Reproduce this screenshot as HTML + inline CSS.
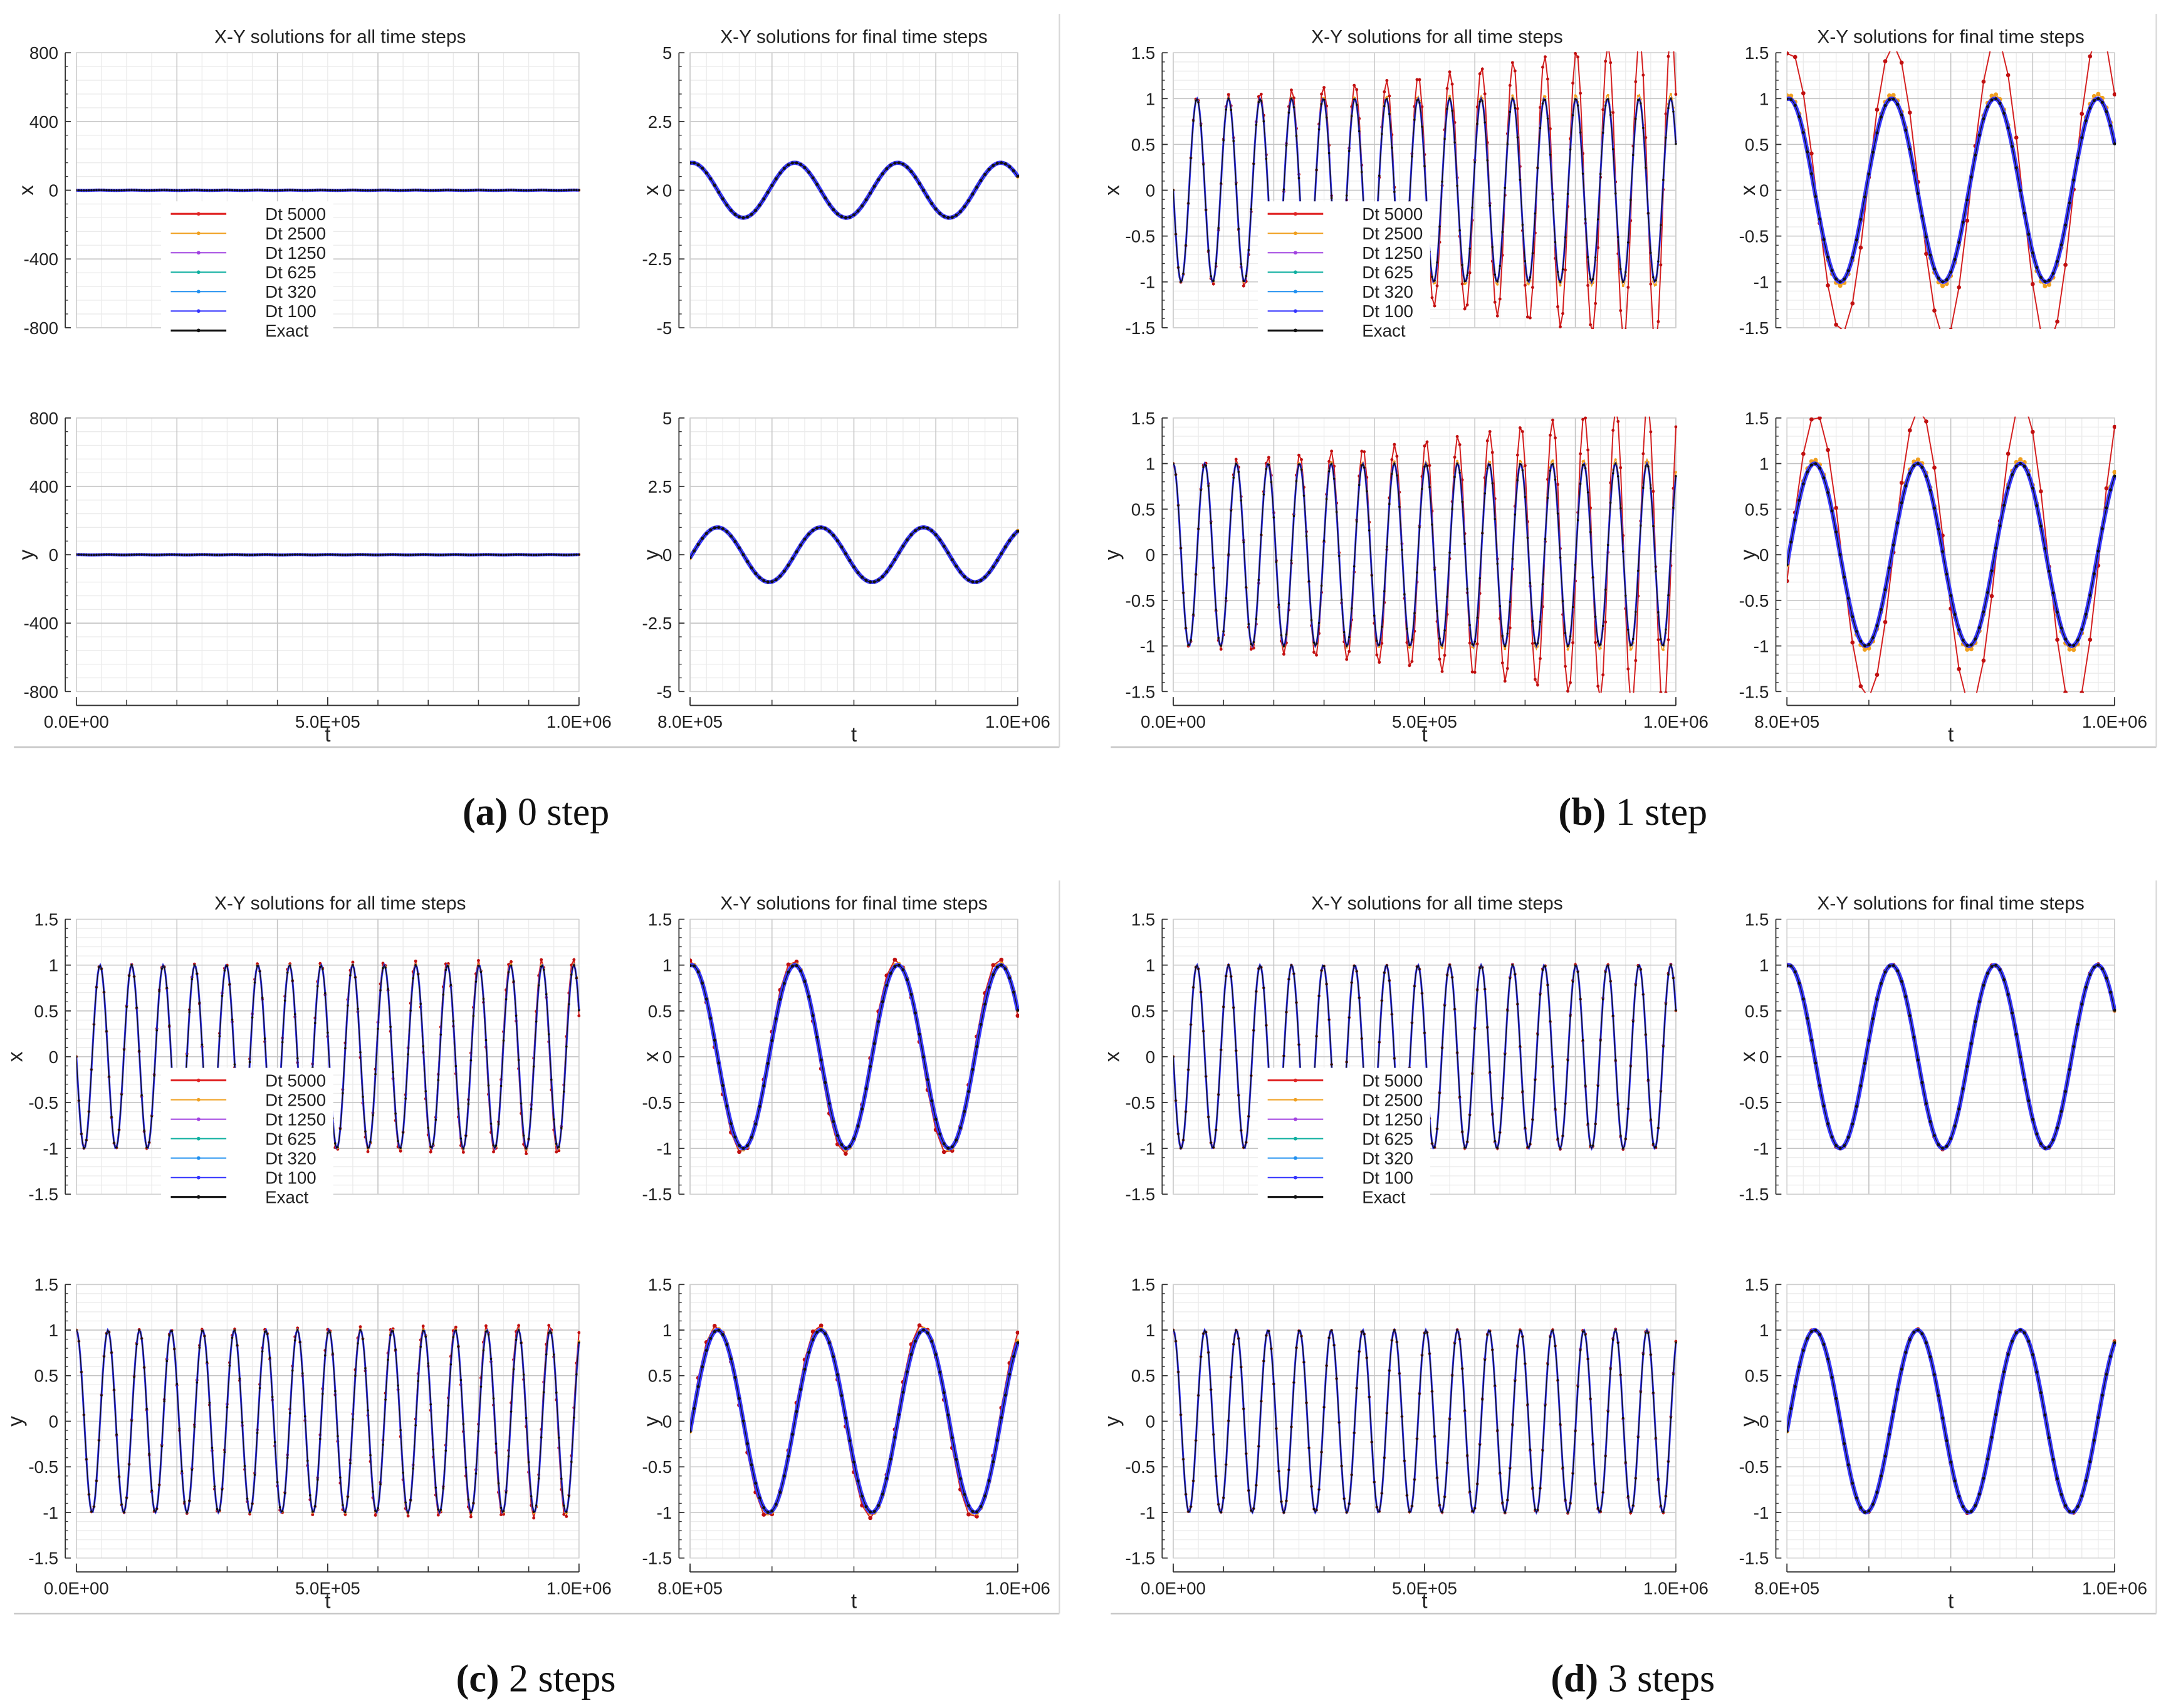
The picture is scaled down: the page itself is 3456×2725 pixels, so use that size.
<!DOCTYPE html>
<html><head><meta charset="utf-8"><style>
html,body{margin:0;padding:0;background:#fff;}
svg{display:block;}
</style></head><body>
<svg id="fig" width="3456" height="2725" viewBox="0 0 1560 1230" preserveAspectRatio="none" xmlns="http://www.w3.org/2000/svg" font-family="Liberation Sans, sans-serif"></svg>
<script>
// ---- data ----
const panelLabels = ["(a)", "(b)", "(c)", "(d)"];
const panelCaptions = ["0 step", "1 step", "2 steps", "3 steps"];
const envT = [0, 200000, 400000, 600000, 800000, 1000000];
const ampDt5000 = [
  [1, 1, 1, 1, 1, 1],
  [1, 1.08, 1.18, 1.33, 1.52, 1.75],
  [1, 1.01, 1.02, 1.04, 1.05, 1.07],
  [1, 1, 1, 1.005, 1.01, 1.01]
];
const lagDt5000 = [
  [0, 0, 0, 0, 0, 0],
  [0, 0.02, 0.04, 0.06, 0.08, 0.11],
  [0, -0.02, -0.04, -0.06, -0.08, -0.1],
  [0, 0, 0, -0.01, -0.01, -0.01]
];
const ampDt2500 = [
  [1, 1, 1, 1, 1, 1],
  [1, 1.01, 1.02, 1.03, 1.04, 1.05],
  [1, 1, 1.005, 1.01, 1.01, 1.015],
  [1, 1, 1, 1, 1, 1]
];
const omega = 1e-4;
const legendNames = ["Dt 5000", "Dt 2500", "Dt 1250", "Dt 625", "Dt 320", "Dt 100", "Exact"];
const legendColors = ["#e02424", "#f0a020", "#a040e0", "#10b0a0", "#2090f0", "#3434ff", "#111111"];
const leftXTicks = [0, 500000, 1000000];
const leftXTickLabels = ["0.0E+00", "5.0E+05", "1.0E+06"];
const rightXTicks = [800000, 1000000];
const rightXTickLabels = ["8.0E+05", "1.0E+06"];
const yTicksA_left = [800, 400, 0, -400, -800];
const yTicksA_right = [5, 2.5, 0, -2.5, -5];
const yTicksB = [1.5, 1, 0.5, 0, -0.5, -1, -1.5];

// ---- drawing ----
const svg = document.getElementById('fig');
const NS = 'http://www.w3.org/2000/svg';
function mk(tag, attrs, parent) {
  const e = document.createElementNS(NS, tag);
  for (const k in attrs) e.setAttribute(k, attrs[k]);
  (parent || svg).appendChild(e);
  return e;
}
function interp(arr, t) {
  for (let i = 0; i < envT.length - 1; i++) {
    if (t <= envT[i + 1]) {
      const f = (t - envT[i]) / (envT[i + 1] - envT[i]);
      return arr[i] + f * (arr[i + 1] - arr[i]);
    }
  }
  return arr[arr.length - 1];
}
function val(comp, t, amp, lag) {
  const A = amp ? interp(amp, t) : 1;
  const d = lag ? interp(lag, t) : 0;
  return comp === 'x' ? -A * Math.sin(omega * t - d) : A * Math.cos(omega * t - d);
}
let clipId = 0;
function plot(g, p, opt) {
  const sx = t => opt.x0 + (t - opt.tmin) / (opt.tmax - opt.tmin) * (opt.x1 - opt.x0);
  const sy = v => opt.y1 - (v - opt.ymin) / (opt.ymax - opt.ymin) * (opt.y1 - opt.y0);
  const pg = mk('g', {}, g);
  
  
  for (let v = opt.ymin; v <= opt.ymax + 1e-9; v += opt.yMinorStep)
    mk('line', {x1: opt.x0, x2: opt.x1, y1: sy(v), y2: sy(v), stroke: '#ebebeb', 'stroke-width': 0.6}, pg);
  for (let t = opt.tmin; t <= opt.tmax + 1; t += opt.xMinor)
    mk('line', {x1: sx(t), x2: sx(t), y1: opt.y0, y2: opt.y1, stroke: '#ebebeb', 'stroke-width': 0.6}, pg);
  for (let t = opt.tmin; t <= opt.tmax + 1; t += opt.xMajor)
    mk('line', {x1: sx(t), x2: sx(t), y1: opt.y0, y2: opt.y1, stroke: '#c4c4c4', 'stroke-width': 0.7}, pg);
  opt.yticks.forEach(v => mk('line', {x1: opt.x0, x2: opt.x1, y1: sy(v), y2: sy(v), stroke: '#c4c4c4', 'stroke-width': 0.7}, pg));
  mk('rect', {x: opt.x0, y: opt.y0, width: opt.x1 - opt.x0, height: opt.y1 - opt.y0, fill: 'none', stroke: '#cfcfcf', 'stroke-width': 0.7}, pg);
  const ax = opt.x0 - 8;
  const yAxis = mk('g', {}, pg);
  
  
  mk('line', {x1: ax, x2: ax, y1: opt.y0, y2: opt.y1, stroke: '#333', 'stroke-width': 0.8}, yAxis);
  for (let v = opt.ymin; v <= opt.ymax + 1e-9; v += opt.yMinorStep)
    mk('line', {x1: ax, x2: ax + 2, y1: sy(v), y2: sy(v), stroke: '#333', 'stroke-width': 0.6}, yAxis);
  opt.yticks.forEach(v => {
    mk('line', {x1: ax, x2: ax + 4, y1: sy(v), y2: sy(v), stroke: '#333', 'stroke-width': 0.8}, yAxis);
    const tx = mk('text', {x: ax - 5, y: sy(v) + 4.5, 'font-size': 12.5, 'text-anchor': 'end', fill: '#222'}, yAxis);
    tx.textContent = String(v);
  });
  const yl = mk('text', {x: opt.ylx, y: sy(0) + 4, 'font-size': 15, 'text-anchor': 'middle', fill: '#222', transform: `rotate(-90 ${opt.ylx} ${sy(0)})`}, yAxis);
  yl.textContent = opt.comp;
  
  
  const id = 'c' + (clipId++);
  const cp = mk('clipPath', {id}, pg);
  mk('rect', {x: opt.x0, y: opt.y0 - 1, width: opt.x1 - opt.x0 + 1, height: opt.y1 - opt.y0 + 2}, cp);
  const cg = mk('g', {'clip-path': `url(#${id})`}, pg);
  const comp = opt.comp;
  function pathFor(step, amp, lag) {
    let d = '';
    for (let t = opt.tmin; t <= opt.tmax + 1; t += step)
      d += (d ? 'L' : 'M') + sx(t).toFixed(2) + ',' + sy(val(comp, t, amp, lag)).toFixed(2);
    return d;
  }
  function dots(step, amp, lag, r, color, g2) {
    for (let t = opt.tmin; t <= opt.tmax + 1; t += step)
      mk('circle', {cx: sx(t), cy: sy(val(comp, t, amp, lag)), r, fill: color}, g2);
  }
  const fullStep = opt.full ? 2500 : 1000;
  const red = mk('g', {}, cg);
  
  
  mk('path', {d: pathFor(5000, ampDt5000[p], lagDt5000[p]), fill: 'none', stroke: '#d42020', 'stroke-width': 0.9}, red);
  dots(5000, ampDt5000[p], lagDt5000[p], opt.full ? 1.1 : 1.5, '#c01010', red);
  const org = mk('g', {}, cg);
  
  
  mk('path', {d: pathFor(2500, ampDt2500[p], null), fill: 'none', stroke: '#f0a020', 'stroke-width': 0.8}, org);
  dots(opt.full ? 5000 : 2500, ampDt2500[p], null, opt.full ? 0.9 : 1.6, '#f0a020', org);
  const blu = mk('g', {}, cg);
  
  
  mk('path', {d: pathFor(fullStep, null, null), fill: 'none', stroke: '#3a3aff', 'stroke-width': opt.full ? (p === 0 ? 2.2 : 1.4) : 3}, blu);
  const ex = mk('g', {}, cg);
  
  
  mk('path', {d: pathFor(fullStep, null, null), fill: 'none', stroke: '#111', 'stroke-width': p === 0 && opt.full ? 0.3 : 0.6}, ex);
  dots(opt.full ? 5000 : 2500, null, null, opt.full ? 0.8 : 1.1, '#111', ex);
  return {sx, sy};
}
function xAxis(g, x0, x1, tmin, tmax, ticks, labels, minor, y) {
  const sx = t => x0 + (t - tmin) / (tmax - tmin) * (x1 - x0);
  const a = mk('g', {}, g);
  
  
  mk('line', {x1: x0, x2: x1, y1: y, y2: y, stroke: '#333', 'stroke-width': 0.8}, a);
  for (let t = tmin; t <= tmax + 1; t += minor)
    mk('line', {x1: sx(t), x2: sx(t), y1: y, y2: y - 4, stroke: '#333', 'stroke-width': 0.7}, a);
  ticks.forEach((t, i) => {
    mk('line', {x1: sx(t), x2: sx(t), y1: y, y2: y - 6, stroke: '#333', 'stroke-width': 0.8}, a);
    const tx = mk('text', {x: sx(t), y: y + 16, 'font-size': 12.5, 'text-anchor': 'middle', fill: '#222'}, a);
    tx.textContent = labels[i];
  });
  const tl = mk('text', {x: (x0 + x1) / 2, y: y + 26, 'font-size': 15, 'text-anchor': 'middle', fill: '#222'}, a);
  tl.textContent = 't';
  
  
}
const offsets = [[0, 0], [790, 0], [0, 624], [790, 624]];
offsets.forEach(([ox, oy], p) => {
  const g = mk('g', {transform: `translate(${ox},${oy})`});
  
  
  mk('line', {x1: 10, x2: 763, y1: 538, y2: 538, stroke: '#c8c8c8', 'stroke-width': 1.2}, g);
  mk('line', {x1: 763, x2: 763, y1: 10, y2: 538, stroke: '#d8d8d8', 'stroke-width': 1}, g);
  const t1 = mk('text', {x: 245, y: 31, 'font-size': 13.5, 'text-anchor': 'middle', fill: '#222'}, g);
  t1.textContent = 'X-Y solutions for all time steps';
  
  
  const t2 = mk('text', {x: 615, y: 31, 'font-size': 13.5, 'text-anchor': 'middle', fill: '#222'}, g);
  t2.textContent = 'X-Y solutions for final time steps';
  
  
  const isA = p === 0;
  const rows = [['x', 38, 236], ['y', 301, 498]];
  rows.forEach(([c, y0, y1]) => {
    plot(g, p, {name: 'plot-' + c + '-all', x0: 55, x1: 417, y0, y1, tmin: 0, tmax: 1000000,
      ymin: isA ? -800 : -1.5, ymax: isA ? 800 : 1.5, comp: c,
      yticks: isA ? yTicksA_left : yTicksB, yMinorStep: isA ? 80 : 0.1,
      xMajor: 200000, xMinor: 50000, full: true, ylx: isA ? 20 : 12});
    plot(g, p, {name: 'plot-' + c + '-final', x0: 497, x1: 733, y0, y1, tmin: 800000, tmax: 1000000,
      ymin: isA ? -5 : -1.5, ymax: isA ? 5 : 1.5, comp: c,
      yticks: isA ? yTicksA_right : yTicksB, yMinorStep: isA ? 0.5 : 0.1,
      xMajor: 50000, xMinor: 10000, full: false, ylx: 470});
  });
  xAxis(g, 55, 417, 0, 1000000, leftXTicks, leftXTickLabels, 100000, 508);
  xAxis(g, 497, 733, 800000, 1000000, rightXTicks, rightXTickLabels, 50000, 508);
  const lg = mk('g', {}, g);
  
  
  mk('rect', {x: 116, y: 145, width: 124, height: 100, fill: '#fff'}, lg);
  legendNames.forEach((n, i) => {
    const e = mk('g', {}, lg);
    
    
    const y = 154 + i * 14;
    mk('line', {x1: 123, x2: 163, y1: y, y2: y, stroke: legendColors[i], 'stroke-width': i === 0 || i === 6 ? 1.4 : 0.9}, e);
    mk('circle', {cx: 143, cy: y, r: 1.3, fill: legendColors[i]}, e);
    const tx = mk('text', {x: 191, y: y + 4.5, 'font-size': 12.5, fill: '#222'}, e);
    tx.textContent = n;
  });
  const cap = mk('text', {x: 386, y: 594, 'font-size': 28, 'text-anchor': 'middle', fill: '#111', 'font-family': 'Liberation Serif, serif'}, g);
  
  
  const b = mk('tspan', {'font-weight': 'bold'}, cap);
  b.textContent = panelLabels[p];
  const r = mk('tspan', {}, cap);
  r.textContent = ' ' + panelCaptions[p];
});
</script>
</body></html>
